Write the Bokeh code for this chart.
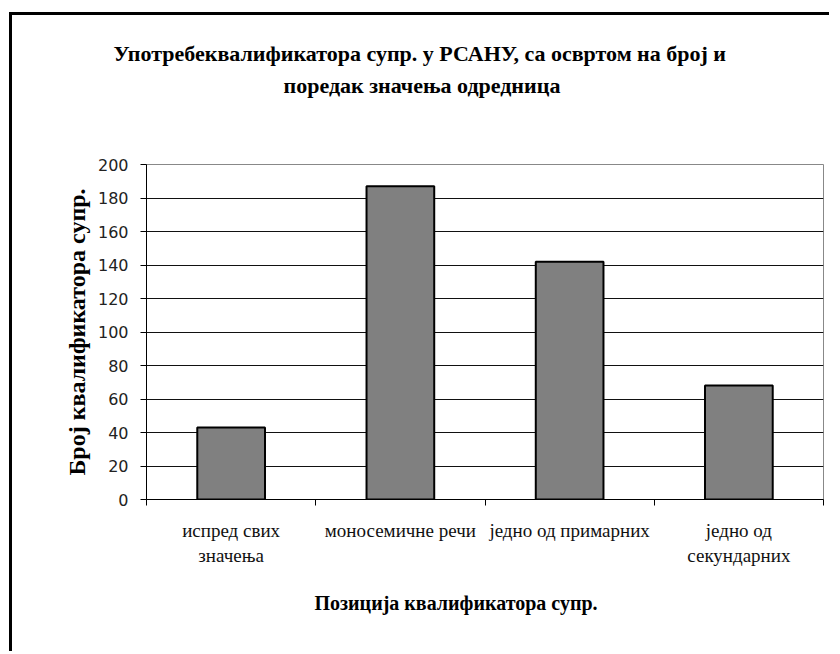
from bokeh.plotting import figure
from bokeh.models import FixedTicker, Range1d, Title
from bokeh.embed import file_html
from bokeh.resources import INLINE

categories = ["испред свих\nзначења", "моносемичне речи", "једно од примарних", "једно од\nсекундарних"]
values = [43, 187, 142, 68]
y_ticks = [0, 20, 40, 60, 80, 100, 120, 140, 160, 180, 200]
title_lines = ["Употребеквалификатора супр. у РСАНУ, са освртом на број и",
               "поредак значења одредница"]
x_title = "Позиција квалификатора супр."
y_title = "Број квалификатора супр."

SERIF = "Liberation Serif"
n = len(categories)
positions = [i + 0.5 for i in range(n)]
boundaries = list(range(n + 1))

p = figure(width=820, height=639,
           x_range=Range1d(0, n), y_range=Range1d(0, 200),
           output_backend="svg", toolbar_location=None,
           min_border_left=134, min_border_right=9,
           min_border_top=149, min_border_bottom=155)
p.styles = {"margin-left": "9px", "margin-top": "12px",
            "border-left": "3px solid black", "border-top": "3px solid black"}
p.background_fill_color = "white"
p.border_fill_color = "white"
p.outline_line_color = "#888888"
p.outline_line_width = 1

p.vbar(x=positions, top=values, width=0.4, bottom=0,
       fill_color="#808080", line_color="black", line_width=2)

# x axis
p.xaxis.ticker = FixedTicker(ticks=positions, minor_ticks=boundaries)
p.xaxis.major_label_overrides = {pos: lab for pos, lab in zip(positions, categories)}
p.xaxis.major_tick_line_color = None
p.xaxis.major_tick_in = 0
p.xaxis.major_tick_out = 0
p.xaxis.minor_tick_line_color = "black"
p.xaxis.minor_tick_in = 0
p.xaxis.minor_tick_out = 6
p.xaxis.axis_line_color = "black"
p.xaxis.major_label_text_font = SERIF
p.xaxis.major_label_text_font_size = "19px"
p.xaxis.major_label_text_color = "#111111"
p.xaxis.major_label_standoff = 14
p.xgrid.visible = False

# y axis
p.yaxis.ticker = FixedTicker(ticks=y_ticks, minor_ticks=[])
p.yaxis.major_tick_in = 0
p.yaxis.major_tick_out = 6
p.yaxis.major_tick_line_color = "black"
p.yaxis.axis_line_color = "black"
p.yaxis.major_label_text_font = "DejaVu Sans"
p.yaxis.major_label_text_font_size = "16px"
p.yaxis.major_label_text_color = "#222222"
p.yaxis.major_label_standoff = 12
p.yaxis.axis_label = y_title
p.yaxis.axis_label_text_font = SERIF
p.yaxis.axis_label_text_font_style = "bold"
p.yaxis.axis_label_text_font_size = "24px"
p.yaxis.axis_label_text_color = "black"
p.yaxis.axis_label_standoff = 5
p.ygrid.ticker = FixedTicker(ticks=y_ticks[1:-1], minor_ticks=[])
p.ygrid.grid_line_color = "#111111"
p.ygrid.grid_line_width = 1

# spacer between frame and title, then title lines (inner line first)
p.add_layout(Title(text=" ", standoff=60, text_font_size="2px"), "above")
p.add_layout(Title(text=title_lines[1], align="left", offset=137, standoff=5,
                   text_font=SERIF, text_font_style="bold", text_font_size="22px",
                   text_color="black"), "above")
p.add_layout(Title(text=title_lines[0], align="left", offset=-33, standoff=5,
                   text_font=SERIF, text_font_style="bold", text_font_size="22px",
                   text_color="black"), "above")

p.add_layout(Title(text=x_title, align="left", offset=168, standoff=42,
                   text_font=SERIF, text_font_style="bold", text_font_size="20px",
                   text_color="black"), "below")

open("out.html", "w").write(file_html(p, INLINE))
